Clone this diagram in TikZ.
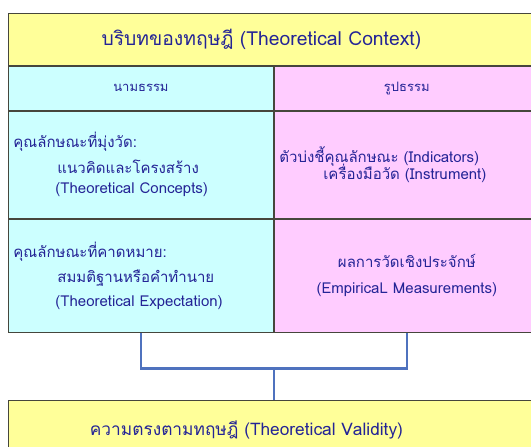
\documentclass[tikz,border=0pt]{standalone}
\usepackage{fontspec}
\newfontfamily\thaifont[Script=Thai]{Loma}
\usetikzlibrary{positioning}
\definecolor{ctxyel}{RGB}{255,255,153}
\definecolor{namcyan}{RGB}{204,255,255}
\definecolor{ruppink}{RGB}{255,204,255}
\definecolor{ink}{RGB}{36,36,150}
\definecolor{edge}{RGB}{70,70,60}
\definecolor{linkblue}{RGB}{79,114,190}

\begin{document}
\begin{tikzpicture}[x=1pt, y=-1pt,
  band/.style={rectangle, draw=edge, fill=ctxyel, line width=0.9pt, inner sep=0pt,
               minimum width=532pt, minimum height=#1, text=ink},
  cell/.style={rectangle, draw=edge, fill=#1, line width=0.9pt, inner xsep=5pt,
               inner ysep=0pt, minimum width=265pt, text width=255pt, text=ink},
  head/.style={font=\thaifont\fontsize{13}{15}\selectfont, align=center, minimum height=44pt},
  body/.style={font=\thaifont\fontsize{15}{20}\selectfont, align=#1},
  link/.style={draw=linkblue, line width=2.4pt}
]
\useasboundingbox (0,0) rectangle (531,447);
\clip (0,0) rectangle (531,447);
\node[band=52pt, font=\thaifont\fontsize{19.3}{22}\selectfont, anchor=north west] (ctx) at (8,13)
  {บริบทของทฤษฎี (Theoretical Context)\hspace*{26pt}};
\node[cell=namcyan, head, below right=0pt and 0pt of ctx.south west] (nam) {นามธรรม};
\node[cell=ruppink, head, right=0pt of nam] (rup) {รูปธรรม};
\node[cell=namcyan, body=left, minimum height=107pt, below right=0pt and 0pt of nam.south west] (c11)
  {คุณลักษณะที่มุ่งวัด:\\[6pt]\hspace*{44pt}แนวคิดและโครงสร้าง\\\hspace*{42pt}(Theoretical Concepts)};
\node[cell=ruppink, body=left, minimum height=107pt, right=0pt of c11] (c12)
  {ตัวบ่งชี้คุณลักษณะ (Indicators)\\[-3pt]\hspace*{44pt}เครื่องมือวัด (Instrument)};
\node[cell=namcyan, body=left, minimum height=113pt, below right=0pt and 0pt of c11.south west] (c21)
  {คุณลักษณะที่คาดหมาย:\\[5pt]\hspace*{44pt}สมมติฐานหรือคำทำนาย\\[4pt]\hspace*{42pt}(Theoretical Expectation)};
\node[cell=ruppink, body=center, minimum height=113pt, right=0pt of c21] (c22)
  {ผลการวัดเชิงประจักษ์\\[6pt](EmpiricaL Measurements)};
\node[band=60pt, font=\thaifont\fontsize{17.3}{20}\selectfont, anchor=north west] (valid) at (8,400)
  {ความตรงตามทฤษฎี (Theoretical Validity)\hspace*{56pt}};
% bracket joining the two lower cells
\coordinate[below=36pt of c21.south east] (join);
\draw[link] (c21.south) |- (join) -| (c22.south);
\draw[link] (join) -- (join |- valid.north);
\end{tikzpicture}
\end{document}
